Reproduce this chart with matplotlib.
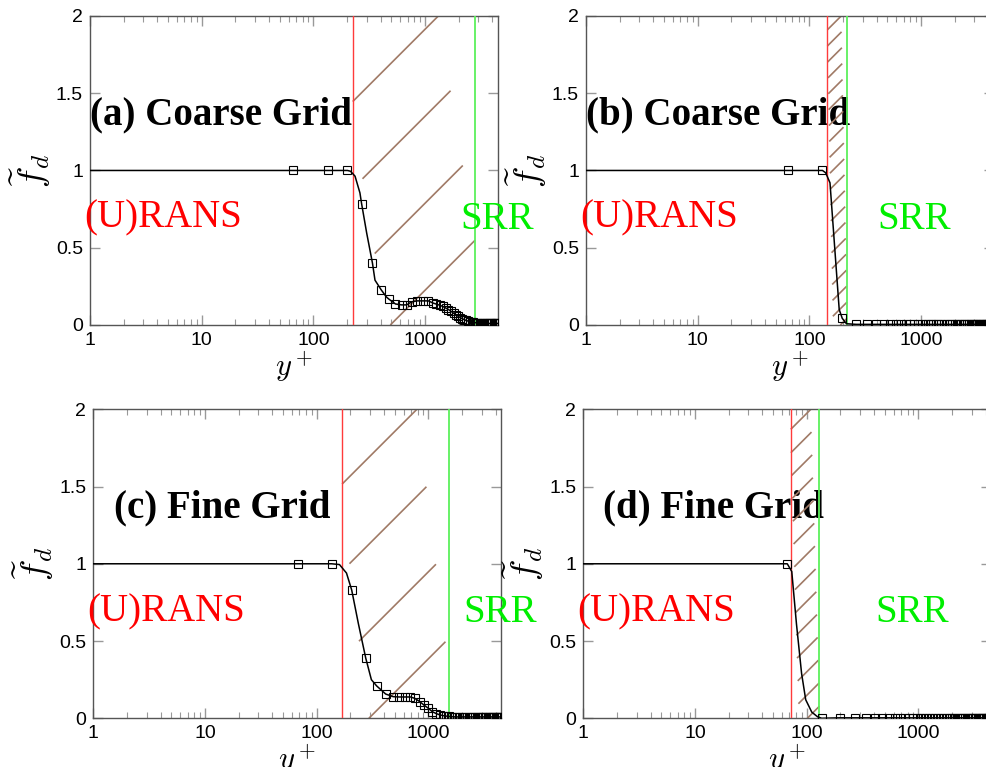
import numpy as np
import matplotlib
matplotlib.use("Agg")
import matplotlib.pyplot as plt
from matplotlib.collections import LineCollection
from matplotlib.ticker import NullLocator, LogLocator, NullFormatter

# shielding function along the wall-normal line, four cases
# (markers = grid points, knots = extra points on the drawn curve)
a_yplus = [66, 136, 202, 270, 338, 405, 473, 543, 615, 684, 758, 850, 967, 1070, 1170,
           1260, 1350, 1440, 1530, 1620, 1710, 1800, 1890, 1980, 2070, 2160, 2250, 2340,
           2430, 2520, 2610, 2700, 2800, 2900, 3000, 3100, 3200, 3300, 3400, 3500, 3600,
           3700, 3800, 3900, 4000, 4100, 4200, 4300, 4400, 4500]
a_fd = [1.0, 1.0, 1.0, 0.786, 0.40, 0.227, 0.168, 0.136, 0.13, 0.13, 0.15, 0.156, 0.156, 0.156, 0.143,
        0.135, 0.128, 0.12, 0.11, 0.10, 0.088, 0.076, 0.066, 0.056, 0.047, 0.04, 0.034, 0.029,
        0.025, 0.022, 0.019, 0.017, 0.015, 0.014, 0.013, 0.012, 0.012, 0.011, 0.011, 0.011, 0.010,
        0.010, 0.010, 0.010, 0.010, 0.010, 0.010, 0.010, 0.010, 0.010]
a_knot_yplus = [1, 215, 236, 261, 300, 356, 452]
a_knot_fd = [1.0, 0.995, 0.963, 0.855, 0.595, 0.29, 0.18]
a_rans, a_srr = 225, 2800

b_yplus = [65, 131, 197, 263, 330, 398, 465, 532, 600, 668, 735, 800, 870, 940, 1010, 1080,
           1150, 1220, 1290, 1360, 1430, 1500, 1600, 1700, 1800, 1900, 2000, 2100, 2200, 2300,
           2400, 2500, 2600, 2700, 2800, 2900, 3000, 3100, 3200, 3300, 3400, 3500, 3600, 3700,
           3800, 3900, 4000, 4100, 4200, 4300, 4400, 4500]
b_fd = [1.0, 1.0, 0.043, 0.004] + [0.004] * 48
b_knot_yplus = [1, 140, 153, 185, 215]
b_knot_fd = [1.0, 0.985, 0.92, 0.10, 0.008]
b_rans, b_srr = 145, 218

c_yplus = [68, 136, 206, 275, 344, 415, 485, 546, 617, 692, 757, 841, 912, 1000, 1084, 1180,
           1270, 1360, 1450, 1540, 1630, 1720, 1810, 1900, 2000, 2100, 2200, 2300, 2400, 2500,
           2600, 2700, 2800, 2900, 3000, 3100, 3200, 3300, 3400, 3500, 3600, 3700, 3800, 3900,
           4000, 4100, 4200, 4300, 4400, 4500]
c_fd = [1.0, 1.0, 0.83, 0.39, 0.21, 0.157, 0.14, 0.138, 0.138, 0.138, 0.129, 0.107, 0.086, 0.065,
        0.043, 0.03, 0.022, 0.017, 0.014, 0.012, 0.011] + [0.009] * 29
c_knot_yplus = [1, 160, 185, 236, 309]
c_knot_fd = [1.0, 0.995, 0.94, 0.615, 0.25]
c_rans, c_srr = 169, 1530

d_yplus = [67, 136, 200, 270, 338, 408, 475, 545, 615, 685, 755, 830, 900, 970, 1040, 1110,
           1180, 1250, 1320, 1400, 1500, 1600, 1700, 1800, 1900, 2000, 2100, 2200, 2300, 2400,
           2500, 2600, 2700, 2800, 2900, 3000, 3100, 3200, 3300, 3400, 3500, 3600, 3700, 3800,
           3900, 4000, 4100, 4200, 4300, 4400, 4500]
d_fd = [1.0, 0.0] + [0.003] * 49
d_knot_yplus = [1, 73.5, 81, 90, 98, 111, 125]
d_knot_fd = [1.0, 0.95, 0.61, 0.29, 0.12, 0.04, 0.01]
d_rans, d_srr = 72, 130

titles = ["(a) Coarse Grid", "(b) Coarse Grid", "(c) Fine Grid", "(d) Fine Grid"]
srr_label_x = [2050, 408, 2040, 409]
xticks = [1, 10, 100, 1000]
xticklabels = ["1", "10", "100", "1000"]
yticks = [0, 0.5, 1, 1.5, 2]
yticklabels = ["0", "0.5", "1", "1.5", "2"]

plt.rcParams["mathtext.fontset"] = "cm"

fig = plt.figure(figsize=(9.87, 7.67), dpi=100)
W_AX, H_AX = 0.4134, 0.4029
boxes = [(0.0912, 0.5763), (0.5937, 0.5763), (0.0945, 0.0635), (0.5910, 0.0635)]
title_dx = [0.0, 0.0, 0.052, 0.048]

panels = [
    (a_yplus, a_fd, a_knot_yplus, a_knot_fd, a_rans, a_srr),
    (b_yplus, b_fd, b_knot_yplus, b_knot_fd, b_rans, b_srr),
    (c_yplus, c_fd, c_knot_yplus, c_knot_fd, c_rans, c_srr),
    (d_yplus, d_fd, d_knot_yplus, d_knot_fd, d_rans, d_srr),
]

BROWN = "#a07a66"


def hatch_band(ax, x0, x1, color):
    # sparse dashed 45 degree hatching between two y+ positions
    W = ax.bbox.width
    H = ax.bbox.height
    u0 = ax.transData.transform((x0, 0))[0] - ax.bbox.x0
    w = ax.transData.transform((x1, 0))[0] - ax.bbox.x0 - u0
    step = max(0.7 * w, min(0.82 * w, 87.0))
    dash = 0.72 * w
    drift = 0.1 * w * min(1.0, w / 120.0)
    segs = []
    k = 0
    c = H - 0.7 * w
    while c > -w:
        s = -0.02 * w + k * drift
        lo = max(s, 0.0, -c)
        hi = min(s + dash, w, H - c)
        if hi - lo > 0.15 * w:
            segs.append([((u0 + lo) / W, (lo + c) / H), ((u0 + hi) / W, (hi + c) / H)])
        c -= step
        k += 1
    ax.add_collection(LineCollection(segs, colors=color, linewidths=1.2,
                                     transform=ax.transAxes, zorder=2))


for i, (yp, fd, ky, kf, xr, xs) in enumerate(panels):
    ax = fig.add_axes([boxes[i][0], boxes[i][1], W_AX, H_AX])
    ax.set_xscale("log")
    ax.set_xlim(1, 4500)
    ax.set_ylim(0, 2)

    # curve through grid points and the extra knots
    cx = np.array(list(yp) + list(ky), dtype=float)
    cy = np.array(list(fd) + list(kf), dtype=float)
    order = np.argsort(cx)
    ax.plot(cx[order], cy[order], color="black", lw=1.1, zorder=4)
    ax.plot(yp, fd, ls="none", marker="s", ms=6, mfc="none", mec="black", mew=0.8, zorder=5)

    ax.axvline(xr, color="#ff3b3b", lw=1.0, zorder=3)
    ax.axvline(xs, color="#5cf05c", lw=1.3, zorder=3)
    hatch_band(ax, xr, xs, BROWN)

    ax.text(title_dx[i], 1.3, titles[i], transform=ax.get_yaxis_transform(),
            family="Liberation Serif", fontweight="bold", fontsize=28,
            ha="left", va="baseline", zorder=1)
    ax.text(-0.015, 0.63, "(U)RANS", transform=ax.get_yaxis_transform(),
            family="Liberation Serif", fontsize=28, color="#ff0000",
            ha="left", va="baseline", clip_on=False)
    ax.text(srr_label_x[i], 0.62, "SRR", family="Liberation Serif", fontsize=28,
            color="#00ee00", ha="left", va="baseline", clip_on=False)

    ax.set_xticks(xticks)
    ax.set_xticklabels(xticklabels)
    ax.xaxis.set_minor_locator(LogLocator(base=10, subs=np.arange(2, 10)))
    ax.xaxis.set_minor_formatter(NullFormatter())
    ax.set_yticks(yticks)
    ax.set_yticklabels(yticklabels)
    ax.yaxis.set_minor_locator(NullLocator())
    ax.tick_params(which="both", direction="in", top=True, right=True, color="#999999")
    ax.tick_params(which="major", length=7, width=1, labelsize=14, pad=5)
    ax.tick_params(which="minor", length=4, width=0.8)
    for lab in ax.get_xticklabels() + ax.get_yticklabels():
        lab.set_family("Liberation Sans")
    for sp in ax.spines.values():
        sp.set_color("#555555")
        sp.set_linewidth(1.0)

    ax.set_ylabel(r"$\widetilde{f}_d$", fontsize=26, labelpad=2)
    ax.set_xlabel(r"$y^+$", fontsize=22, labelpad=0)

fig.savefig("out.png", dpi=100)
